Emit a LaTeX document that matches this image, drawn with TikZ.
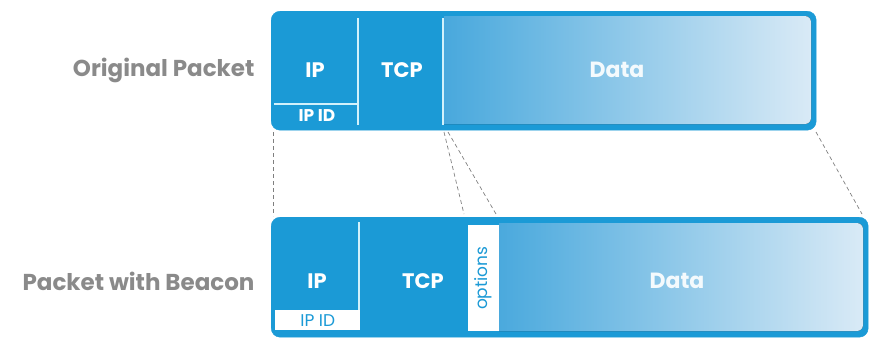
\documentclass[tikz,border=0pt]{standalone}
\usepackage{fontspec}
\setmainfont{Poppins}
\definecolor{pblue}{HTML}{1B9AD6}
\definecolor{pmid}{HTML}{3FA4DB}
\definecolor{plight}{HTML}{D9EAF6}
\definecolor{lbl}{HTML}{8A8A8A}
\definecolor{divl}{HTML}{D2F1FB}
\definecolor{dashc}{HTML}{7F7F7F}
\begin{document}
\begin{tikzpicture}[x=1pt,y=-1pt,
  pkt/.style={draw=pblue, fill=pblue, rounded corners=9pt, anchor=north west, inner sep=0pt},
  divider/.style={draw=divl, line width=1.4pt},
  fieldtxt/.style={text=white, font=\bfseries\fontsize{21}{24}\selectfont},
  datatxt/.style={text=white!95!pblue, font=\bfseries\fontsize{22}{25}\selectfont},
  smalltxt/.style={text=white, font=\bfseries\fontsize{17}{19}\selectfont},
  boxtxt/.style={text=pblue, font=\fontsize{17}{19}\selectfont},
  rowlbl/.style={text=lbl, font=\bfseries\fontsize{23}{26}\selectfont, anchor=east},
  guide/.style={draw=dashc, line width=0.7pt, dash pattern=on 4pt off 3pt}]
\useasboundingbox (0,0) rectangle (870,341);

% ---- top packet ----
\node[pkt, minimum width=545pt, minimum height=119pt] (top) at (271,11) {};
\begin{scope}
  \clip (444,16) rectangle (900,124);
  \fill[rounded corners=6pt, left color=pmid, right color=plight] (420,16) rectangle (811,124);
\end{scope}
\draw[divider] (358,18) -- (358,125);
\draw[divider] (274,104) -- (358,104);
\draw[divider] (443,18) -- (443,125);
\node[fieldtxt] (tip) at (315,70) {IP};
\node[fieldtxt] (ttcp) at (402,70) {TCP};
\node[smalltxt] (tipid) at (317,116) {IP ID};
\node[datatxt] (tdata) at (617,70) {Data};

% ---- bottom packet ----
\node[pkt, minimum width=597pt, minimum height=120pt] (bot) at (271,217) {};
\begin{scope}
  \clip (499,223) rectangle (900,331);
  \fill[rounded corners=6pt, left color=pmid, right color=plight] (470,223) rectangle (863,331);
\end{scope}
\draw[divider] (359,222) -- (359,310);
\node[fill=white, minimum width=85pt, minimum height=20pt, inner sep=0pt, anchor=north west] (bidbox) at (275,310) {};
\node[boxtxt] (bipid) at (bidbox.center) {IP ID};
\node[fill=white, minimum width=31pt, minimum height=106pt, inner sep=0pt, anchor=north west] (optbox) at (468,225) {};
\node[boxtxt, rotate=90] (bopt) at (optbox.center) {options};
\node[fieldtxt] (bip) at (317,281) {IP};
\node[fieldtxt] (btcp) at (423,281) {TCP};
\node[datatxt] (bdata) at (677,281) {Data};

% ---- row labels ----
\node[rowlbl] (lorig) at (258,70) {Original Packet};
\node[rowlbl] (lbeacon) at (258,281) {Packet with Beacon};

% ---- guide lines ----
\coordinate (a1) at (273,132); \coordinate (a2) at (273,216);
\coordinate (b1) at (444,132); \coordinate (b2) at (464,214);
\coordinate (c1) at (448,132); \coordinate (c2) at (496,214);
\coordinate (d1) at (816,132); \coordinate (d2) at (862,214);
\draw[guide] (a1) -- (a2);
\draw[guide] (b1) -- (b2);
\draw[guide] (c1) -- (c2);
\draw[guide] (d1) -- (d2);
\end{tikzpicture}
\end{document}
